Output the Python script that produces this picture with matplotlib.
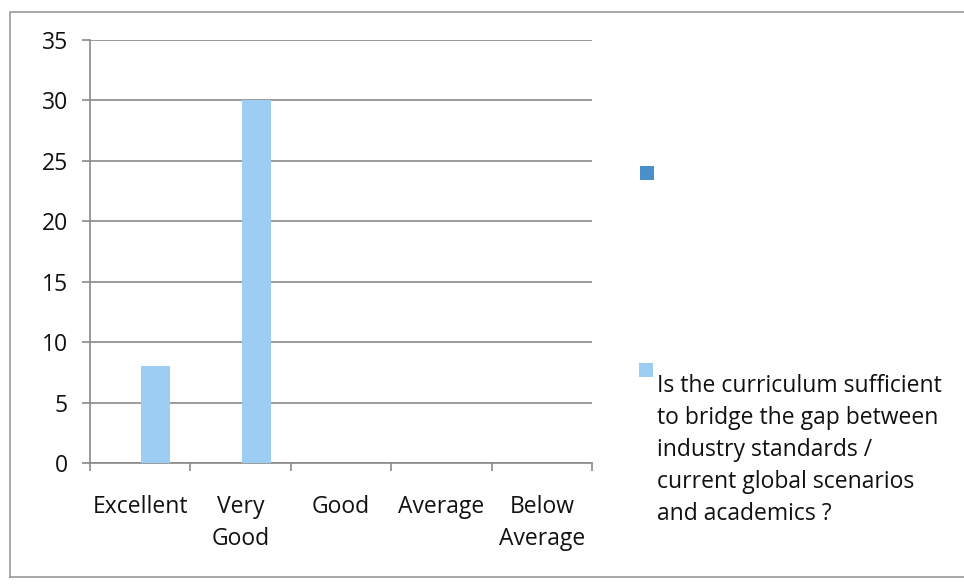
"""Excel-style survey bar chart: curriculum vs industry gap."""

import matplotlib

matplotlib.use("Agg")

import matplotlib.pyplot as plt
from matplotlib.patches import Rectangle
from matplotlib.ticker import FixedLocator, NullFormatter
import numpy as np

categories = ["Excellent", "Very\nGood", "Good", "Average", "Below\nAverage"]
blank_series = [0, 0, 0, 0, 0]
curriculum_series = [8, 30, 0, 0, 0]
series_label = ("Is the curriculum sufficient\nto bridge the gap between\n"
                "industry standards /\ncurrent global scenarios\nand academics ?")
y_ticks = [0, 5, 10, 15, 20, 25, 30, 35]

DARK = "#4a8fcc"
LIGHT = "#9dcdf2"
GRID = "#8a8a8a"
TEXT = "#111111"
FS = 16.5

plt.rcParams["font.family"] = ["Open Sans", "DejaVu Sans"]

W, H = 964, 584
fig = plt.figure(figsize=(W / 100, H / 100), dpi=100)
ax = fig.add_axes([90 / W, 1 - 463 / H, 502 / W, 423 / H])

x = np.arange(len(categories))
width = 0.29
ax.bar(x - 0.145, blank_series, width, color=DARK, linewidth=0)
ax.bar(x + 0.155, curriculum_series, width, color=LIGHT, linewidth=0, zorder=3)

ax.set_xlim(-0.5, len(categories) - 0.5)
ax.set_ylim(0, 35)
ax.set_yticks(y_ticks)
ax.yaxis.grid(True, color=GRID, linewidth=1.2)
ax.set_axisbelow(True)

ax.set_xticks(x)
ax.set_xticklabels(categories, fontsize=FS, color=TEXT, linespacing=1.45)
ax.xaxis.set_minor_locator(FixedLocator(np.arange(-0.5, len(categories), 1.0)))
ax.xaxis.set_minor_formatter(NullFormatter())
ax.tick_params(axis="x", which="major", length=0, pad=23)
ax.tick_params(axis="x", which="minor", length=6, width=1.2, color=GRID)
ax.tick_params(axis="y", length=6, width=1.2, color=GRID, labelsize=FS,
               labelcolor=TEXT, pad=10)

for side in ("top", "right"):
    ax.spines[side].set_visible(False)
for side in ("left", "bottom"):
    ax.spines[side].set_color(GRID)
    ax.spines[side].set_linewidth(1.2)

# legend drawn by hand: Excel puts the blank series far above the named one
fig.add_artist(Rectangle((640 / W, 1 - 180 / H), 14 / W, 14 / H,
                         transform=fig.transFigure, facecolor=DARK, edgecolor="none"))
fig.add_artist(Rectangle((639 / W, 1 - 377 / H), 14 / W, 14 / H,
                         transform=fig.transFigure, facecolor=LIGHT, edgecolor="none"))
fig.text(657 / W, 1 - 374 / H, series_label, fontsize=FS, color=TEXT,
         va="top", ha="left", linespacing=1.45)

# outer chart border (open on the right, as in the scan)
fig.add_artist(plt.Line2D([10 / W, 10 / W, 1.0], [1 - 577 / H, 1 - 12 / H, 1 - 12 / H],
                          transform=fig.transFigure, color="#9a9a9a", linewidth=1.2))
fig.add_artist(plt.Line2D([10 / W, 1.0], [1 - 577 / H, 1 - 577 / H],
                          transform=fig.transFigure, color="#9a9a9a", linewidth=1.2))

fig.savefig("out.png", dpi=100)
